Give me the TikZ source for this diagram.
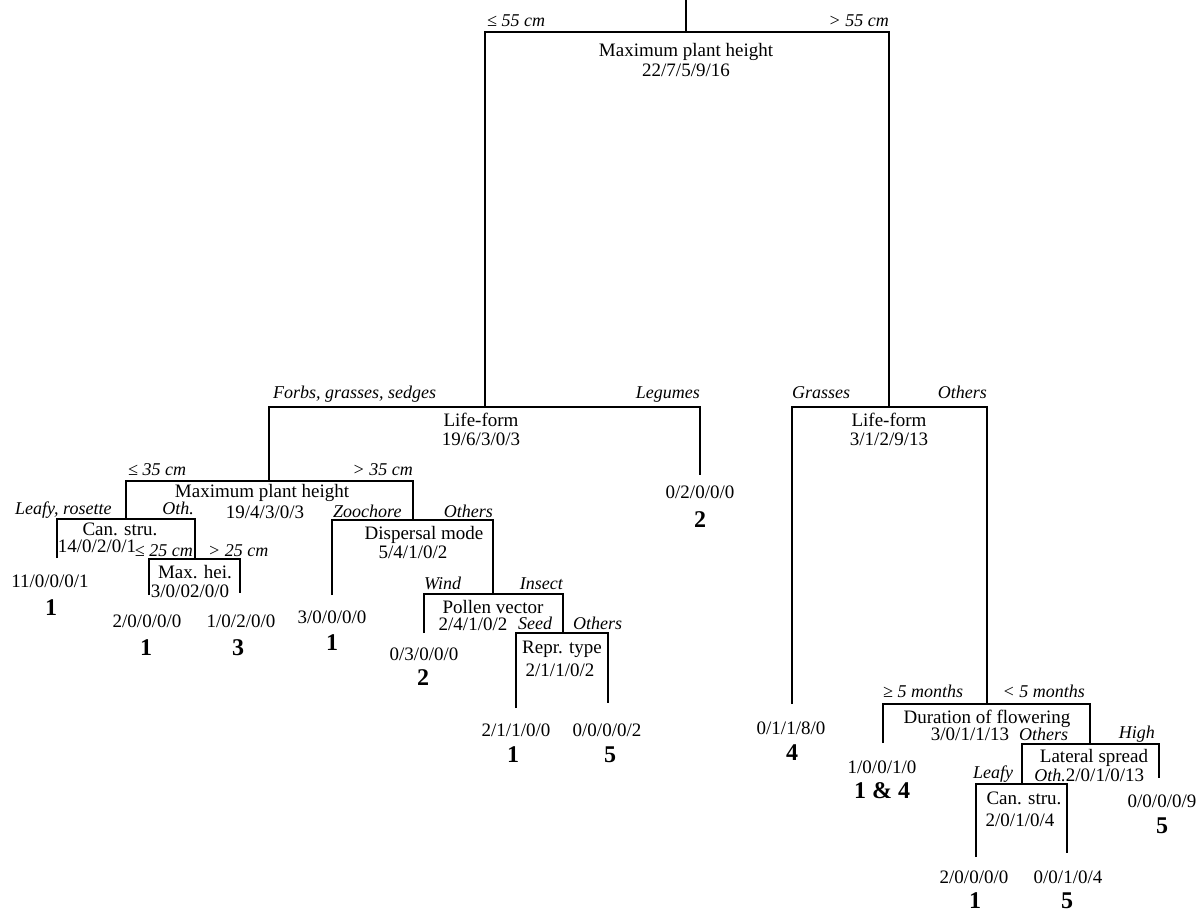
\documentclass[tikz,border=0pt]{standalone}
\usepackage{fontspec}
\setmainfont{Liberation Serif}
\usetikzlibrary{positioning}

\begin{document}
\begin{tikzpicture}[x=1pt,y=-1pt,
   every node/.style={inner sep=0pt,anchor=base,font=\fontsize{19}{22}\selectfont},
   lab/.style={font=\fontsize{18}{22}\selectfont\itshape},
   labl/.style={lab,anchor=base west},
   labr/.style={lab,anchor=base east},
   grp/.style={font=\fontsize{24}{26}\selectfont\bfseries},
   bar/.style={line width=1.3pt}]
\useasboundingbox (0,0) rectangle (1204,915);
\coordinate (top) at (686,0);
\coordinate (mph) at (686,32);   \coordinate (mphL) at (485,32);   \coordinate (mphR) at (889,32);
\coordinate (lfa) at (485,407);  \coordinate (lfaL) at (269,407);  \coordinate (lfaR) at (700,407);
\coordinate (lfb) at (889,407);  \coordinate (lfbL) at (792,407);  \coordinate (lfbR) at (987,407);
\coordinate (mphb) at (269,481); \coordinate (mphbL) at (126,481); \coordinate (mphbR) at (413,481);
\coordinate (csa) at (126,519);  \coordinate (csaL) at (57,519);   \coordinate (csaR) at (195,519);
\coordinate (mh) at (195,559);   \coordinate (mhL) at (149,559);   \coordinate (mhR) at (240,559);
\coordinate (dm) at (413,520);   \coordinate (dmL) at (332,520);   \coordinate (dmR) at (493,520);
\coordinate (pv) at (493,594);   \coordinate (pvL) at (424,594);   \coordinate (pvR) at (563,594);
\coordinate (rt) at (563,633);   \coordinate (rtL) at (516,633);   \coordinate (rtR) at (608,633);
\coordinate (df) at (987,704);   \coordinate (dfL) at (883,704);   \coordinate (dfR) at (1090,704);
\coordinate (ls) at (1090,744);  \coordinate (lsL) at (1022,744);  \coordinate (lsR) at (1159,744);
\coordinate (csb) at (1022,784); \coordinate (csbL) at (976,784);  \coordinate (csbR) at (1067,784);
\coordinate (eLeg) at (700,475);
\coordinate (eA1) at (57,558);   \coordinate (eA2) at (149,595);   \coordinate (eA3) at (240,593);
\coordinate (eA4) at (332,595);  \coordinate (eA5) at (424,633);   \coordinate (eA6) at (516,708);
\coordinate (eA7) at (608,703);
\coordinate (eB1) at (792,704);  \coordinate (eB2) at (883,743);   \coordinate (eB3) at (1159,778);
\coordinate (eB4) at (976,857);  \coordinate (eB5) at (1067,853);
\draw[bar] (top) -- (mph);
\draw[bar] (lfa) -- (mphL) -- (mphR) -- (lfb);
\draw[bar] (mphb) -- (lfaL) -- (lfaR) -- (eLeg);
\draw[bar] (eB1) -- (lfbL) -- (lfbR) -- (df);
\draw[bar] (csa) -- (mphbL) -- (mphbR) -- (dm);
\draw[bar] (eA1) -- (csaL) -- (csaR) -- (mh);
\draw[bar] (eA2) -- (mhL) -- (mhR) -- (eA3);
\draw[bar] (eA4) -- (dmL) -- (dmR) -- (pv);
\draw[bar] (eA5) -- (pvL) -- (pvR) -- (rt);
\draw[bar] (eA6) -- (rtL) -- (rtR) -- (eA7);
\draw[bar] (eB2) -- (dfL) -- (dfR) -- (ls);
\draw[bar] (csb) -- (lsL) -- (lsR) -- (eB3);
\draw[bar] (eB4) -- (csbL) -- (csbR) -- (eB5);
\node (mphT) at (686,57) {Maximum plant height};
\node (mphN) at (686,77) {22/7/5/9/16};
\node[labl] (mphl) at (487,27) {≤ 55 cm};
\node[labr] (mphr) at (889,27) {> 55 cm};
\node (lfaT) at (481,426) {Life-form};
\node (lfaN) at (481,445) {19/6/3/0/3};
\node[labl] (lfal) at (273,398) {Forbs, grasses, sedges};
\node[labr] (lfar) at (700,398) {Legumes};
\node (lfbT) at (889,426) {Life-form};
\node (lfbN) at (889,445) {3/1/2/9/13};
\node[labl] (lfbl) at (792,398) {Grasses};
\node[labr] (lfbr) at (987,398) {Others};
\node (mphbT) at (262,497) {Maximum plant height};
\node (mphbN) at (265,518) {19/4/3/0/3};
\node[labl] (mphbl) at (128,475) {≤ 35 cm};
\node[labr] (mphbr) at (413,475) {> 35 cm};
\node (csaT) at (120,535) {Can. stru.};
\node (csaN) at (97,552) {14/0/2/0/1};
\node[labl] (csal) at (15,514) {Leafy, rosette};
\node[labr] (csar) at (194,514) {Oth.};
\node (mhT) at (195,578) {Max. hei.};
\node (mhN) at (190,597) {3/0/02/0/0};
\node[labr] (mhl) at (193,556) {≤ 25 cm};
\node[labl] (mhr) at (208,556) {> 25 cm};
\node (dmT) at (424,539) {Dispersal mode};
\node (dmN) at (413,558) {5/4/1/0/2};
\node[labl] (dml) at (333,517) {Zoochore};
\node[labr] (dmr) at (493,517) {Others};
\node (pvT) at (493,613) {Pollen vector};
\node (pvN) at (473,630) {2/4/1/0/2};
\node[labl] (pvl) at (424,589) {Wind};
\node[labr] (pvr) at (563,589) {Insect};
\node (rtT) at (562,653) {Repr. type};
\node (rtN) at (560,676) {2/1/1/0/2};
\node[labl] (rtl) at (518,629) {Seed};
\node[labl] (rtr) at (573,629) {Others};
\node (dfT) at (987,723) {Duration of flowering};
\node (dfN) at (970,740) {3/0/1/1/13};
\node[labl] (dfl) at (883,697) {≥ 5 months};
\node[labr] (dfr) at (1085,697) {< 5 months};
\node (lsT) at (1094,762) {Lateral spread};
\node (lsN) at (1105,781) {2/0/1/0/13};
\node[labl] (lsl) at (1019,740) {Others};
\node[labr] (lsr) at (1155,738) {High};
\node (csbT) at (1024,804) {Can. stru.};
\node (csbN) at (1020,826) {2/0/1/0/4};
\node[labl] (csbl) at (973,778) {Leafy};
\node[labr] (csbr) at (1066,781) {Oth.};
\node (nLeg) at (700,498) {0/2/0/0/0};   \node[grp] (gLeg) at (700,527) {2};
\node (nA1) at (50,587) {11/0/0/0/1};    \node[grp] (gA1) at (51,615) {1};
\node (nA2) at (147,627) {2/0/0/0/0};    \node[grp] (gA2) at (146,655) {1};
\node (nA3) at (241,627) {1/0/2/0/0};    \node[grp] (gA3) at (238,655) {3};
\node (nA4) at (332,623) {3/0/0/0/0};    \node[grp] (gA4) at (332,650) {1};
\node (nA5) at (424,660) {0/3/0/0/0};    \node[grp] (gA5) at (423,685) {2};
\node (nA6) at (516,736) {2/1/1/0/0};    \node[grp] (gA6) at (513,762) {1};
\node (nA7) at (607,736) {0/0/0/0/2};    \node[grp] (gA7) at (610,762) {5};
\node (nB1) at (791,734) {0/1/1/8/0};    \node[grp] (gB1) at (792,760) {4};
\node (nB2) at (882,773) {1/0/0/1/0};    \node[grp] (gB2) at (882,798) {1 \& 4};
\node (nB3) at (1162,807) {0/0/0/0/9};   \node[grp] (gB3) at (1162,833) {5};
\node (nB4) at (974,883) {2/0/0/0/0};    \node[grp] (gB4) at (975,908) {1};
\node (nB5) at (1068,883) {0/0/1/0/4};   \node[grp] (gB5) at (1067,908) {5};
\end{tikzpicture}
\end{document}
